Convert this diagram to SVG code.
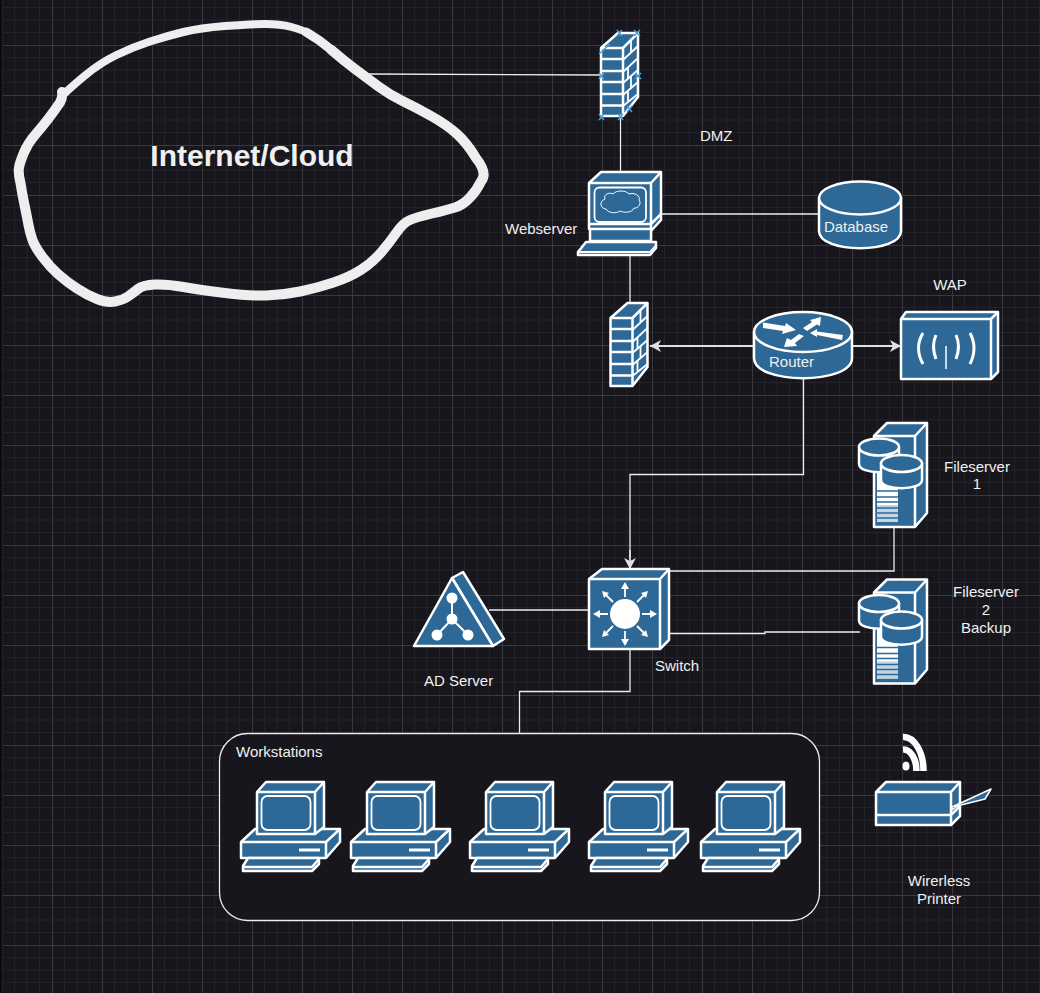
<svg xmlns="http://www.w3.org/2000/svg" width="1040" height="993" viewBox="0 0 1040 993">
<style>
.s{fill:#2d6896;stroke:#fff;stroke-width:2.500;stroke-linejoin:round}
.l{fill:none;stroke:#fff;stroke-width:2.500;stroke-linejoin:round}
.t{fill:none;stroke:#fff;stroke-width:1.800;stroke-linejoin:round}
.w{fill:#fff;stroke:none}
.c{fill:none;stroke:#ececec;stroke-width:1.300}
.a{fill:none;stroke:#e0e0e0;stroke-width:1.800}
.k{fill:none;stroke:#eeeeee;stroke-linecap:round;stroke-linejoin:round}
text{font-family:"Liberation Sans",Arial,sans-serif;font-size:15px;fill:#f0f0f0}
.m{text-anchor:middle}
.x{stroke:#4f9fd8;stroke-width:1.500;fill:none}
</style>
<defs>
<pattern id="grid" width="50" height="50" x="2" y="-5" patternUnits="userSpaceOnUse">
<path d="M12.5 0V50M25 0V50M37.5 0V50M0 12.5H50M0 25H50M0 37.5H50" fill="none" stroke="#232228" stroke-width="1"/>
<path d="M0.5 0V50M0 0.5H50" fill="none" stroke="#3a393e" stroke-width="1"/>
</pattern>
<marker id="arr" markerUnits="userSpaceOnUse" markerWidth="12" markerHeight="14" refX="11" refY="7" orient="auto">
<path d="M0 1L11 7L0 13L3 7Z" fill="#e0e0e0"/>
</marker>
<g id="firewall">
<path class="s" d="M0 15L17 0H37V64L22 83H0Z"/>
<path class="l" d="M0 15H22L37 0M22 15V83"/>
<path class="l" d="M0 26H22M0 38H22M0 49H22M0 61H22M0 72.500H22"/>
<path class="t" d="M22 27L37 13M22 39L37 25M22 50L37 37M22 62L37 49M22 73L37 61"/>
<path class="t" d="M30 8V19M27 34V46M30 43V55M27 57V68"/>
</g>
<g id="fileserver">
<path class="s" d="M874 436L887 423H927V513L915 527H874Z"/>
<path class="l" d="M874 436H915L927 423M915 436V527"/>
<rect x="877" y="473" width="21" height="49" fill="#fff" stroke="none"/>
<rect x="877" y="505" width="21" height="17" fill="#c4d5e2" stroke="none"/>
<path d="M877 491H898M877 497H898M877 502H898M877 508H898M877 513H898M877 518H898" stroke="#2d6896" stroke-width="1.300" fill="none"/>
<path class="s" d="M859 447V464C859 475 899 475 899 464V447Z"/>
<ellipse class="s" cx="879" cy="447" rx="20" ry="8.500"/>
<path class="s" d="M881 463V480C881 491 922 491 922 480V463Z"/>
<ellipse class="s" cx="901.500" cy="463.500" rx="20.500" ry="8.500"/>
</g>
<g id="pc">
<path class="s" d="M241 842L255 829H340V842L326 858H241Z"/>
<path class="l" d="M241 842H326L340 829M326 842V858"/>
<path class="w" d="M299 848.500H320V851.500H299Z"/>
<path class="s" d="M248 858H319V864L312 871H243V866Z"/>
<path class="l" d="M243 867H312L319 859"/>
<path class="s" d="M257 792L266 782H324V827L315 834H257Z"/>
<path class="l" d="M257 792H315L324 782M315 792V834"/>
<rect class="t" x="261.500" y="796" width="49" height="34" rx="6"/>
</g>
</defs>
<rect width="1040" height="993" fill="#18161d"/>
<rect width="1040" height="993" fill="url(#grid)"/>
<rect width="2.500" height="993" fill="#0c0c0e"/>
<g id="connectors">
<path class="c" d="M367 74L601 75"/>
<path class="c" d="M620.500 117V172"/>
<path class="c" d="M661 214H819"/>
<path class="c" d="M630 256V303"/>
<path class="a" d="M753 346H650" marker-end="url(#arr)"/>
<path class="a" d="M852 346H901" marker-end="url(#arr)"/>
<path class="c" d="M803.500 378V474.500H630V558"/>
<path class="a" d="M630 550V569" marker-end="url(#arr)"/>
<path class="c" d="M894 527V571H669"/>
<path class="c" d="M669 633.500H765V632H860"/>
<path class="c" d="M489 610H589"/>
<path class="c" d="M630 649V691.500H519.500V733"/>
</g>
<g id="cloud">
<path class="k" stroke-width="8" d="M64 94Q70 88 85 75.500Q100 63 116.500 55Q133 47 150 41.500Q167 36 183.500 32Q200 28 225 26Q250 24 265 24Q280 24 291.500 27Q303 30 311.500 35"/>
<path class="k" stroke-width="9" d="M306 32Q320 40 331.500 50"/>
<path class="k" stroke-width="10" d="M331.500 50Q343 60 355 69Q367 78 378.500 86.500Q390 95 403.500 101.500Q417 108 432 116.500Q447 125 457 134Q467 143 476 158Q488 173 481 181.500Q477 190 470 197.500Q463 205 455 207.500Q447 210 432 213.500Q417 217 410 220Q403 223 396.500 232.500Q390 242 381.500 252Q373 262 361.500 269.500Q350 277 333.500 282.500Q317 288 300 291.500Q283 295 266.500 295.500Q250 296 225 293Q200 290 183.500 287Q167 284 155 284.500Q143 285 138 289Q133 293 128 296.500Q123 300 115 301.500Q107 303 97 299Q87 295 77 288.500Q67 282 58.500 274.500Q50 267 42.500 257Q35 247 32.500 240Q30 233 28.500 225Q27 217 24.500 205Q22 193 20.500 183Q18 173 19 167.500Q20 162 24 152.500Q28 143 35 135Q42 127 48.500 118.500Q55 110 60 102.500Q63 97 62 92"/>
<text x="252" y="166" class="m" style="font-size:30px;font-weight:bold">Internet/Cloud</text>
</g>
<g id="firewall-dmz">
<use href="#firewall" x="601" y="33"/>
<path class="x" d="M599 54L610 44M617 30L622 36M622 30L617 36M634 30L640 36M640 30L634 36M599 73L604 79M604 73L599 79M635 73L641 79M641 73L635 79M599 114L604 120M604 114L599 120M618 114L623 120M623 114L618 120M627 106L632 112M632 106L627 112"/>
</g>
<g id="webserver">
<path class="s" d="M589 183L601 172H661V220L651 231V241H590V229H589Z"/>
<path class="l" d="M589 183H651L661 172M651 183V229H589M590 224H651L661 214"/>
<rect class="t" x="594.500" y="187.500" width="51.500" height="34.500" rx="5"/>
<path class="l" style="stroke-width:1" d="M605 199C603 194 610 192 613 194C616 190 626 190 629 194C634 192 641 196 639 200C642 203 638 209 634 208C632 213 624 213 620 211C616 214 608 213 606 209C601 209 598 202 605 199Z"/>
<path class="s" d="M586 242H656V248L650 255H578V252Z"/>
<path class="t" d="M578 252H650L656 245"/>
<text x="505" y="234">Webserver</text>
</g>
<g id="database">
<path class="s" d="M819 198V231C819 254 901 254 901 231V198Z"/>
<ellipse class="s" cx="860" cy="198" rx="41" ry="16.500"/>
<text x="856" y="232" class="m">Database</text>
</g>
<g id="dmz-label"><text x="700" y="141">DMZ</text></g>
<g id="firewall-inner"><use href="#firewall" x="610.500" y="303"/></g>
<g id="router">
<path class="s" d="M754 332V358C754 385 852 385 852 358V332Z"/>
<ellipse class="s" cx="803" cy="332" rx="49" ry="20"/>
<path class="w" d="M763 322.500L785 326L786 323L796 330L782 334L783 331L763 328ZM803 328L812 322L810 320L821 317L820 326L817 324.500L807 331ZM810 333L817 329L817 331.500L843 335L842 340L817 335L817 337ZM784 347L787 338L791 340L799 334L804 336L795 343L797 346Z"/>
<text x="769" y="367">Router</text>
</g>
<g id="wap">
<path class="s" d="M901 319L906 312H998V372L991 379H901Z"/>
<path class="l" d="M901 319H991L998 312M991 319V379"/>
<path d="M923 333Q914 348 923 364M936 335Q931 346 936 359M956 335Q961 346 956 359M970 333Q978 348 970 364" stroke="#fff" stroke-width="3" fill="none"/>
<path d="M946 346V369" stroke="#fff" stroke-width="1.500"/>
<text x="950" y="290" class="m">WAP</text>
</g>
<g id="fileserver1">
<use href="#fileserver"/>
<text x="977" y="472" class="m">Fileserver</text>
<text x="977" y="489" class="m">1</text>
</g>
<g id="fileserver2">
<use href="#fileserver" y="156.500"/>
<text x="986" y="597" class="m">Fileserver</text>
<text x="986" y="615" class="m">2</text>
<text x="986" y="633" class="m">Backup</text>
</g>
<g id="switch">
<path class="s" d="M589 579L602 569H669V640L660 649H589Z"/>
<path class="l" d="M589 579H660L669 569M660 579V649"/>
<circle cx="625" cy="614" r="15" fill="#fff"/>
<g stroke="#fff" stroke-width="1.800" fill="none">
<path d="M625 597V584M625 631V644M608 614H595M642 614H655M613 602L604 593M637 602L646 593M613 626L604 635M637 626L646 635"/>
</g>
<path class="w" d="M625 582L629 589H621ZM625 646L629 639H621ZM593 614L600 610V618ZM657 614L650 610V618ZM602 591L609 593L604 598ZM648 591L646 598L641 593ZM602 637L604 630L609 635ZM648 637L641 635L646 630Z"/>
<text x="655" y="671">Switch</text>
</g>
<g id="ad-server">
<path class="s" d="M452 578L463 572L504 639L493 646Z"/>
<path class="s" d="M414 646L452 578L493 646Z"/>
<path d="M452 598V619M452 619L437 635M452 619L468 635" stroke="#fff" stroke-width="2"/>
<circle cx="452" cy="598" r="5.500" fill="#fff"/>
<circle cx="452" cy="619" r="5.500" fill="#fff"/>
<circle cx="437" cy="635" r="5.500" fill="#fff"/>
<circle cx="468" cy="635" r="5.500" fill="#fff"/>
<text x="424" y="686">AD Server</text>
</g>
<g id="workstations">
<rect x="219.500" y="733.500" width="600" height="187" rx="28" fill="#18161d" stroke="#ececec" stroke-width="1.300"/>
<text x="236" y="757">Workstations</text>
</g>
<g id="workstation1"><use href="#pc"/></g>
<g id="workstation2"><use href="#pc" x="110"/></g>
<g id="workstation3"><use href="#pc" x="229"/></g>
<g id="workstation4"><use href="#pc" x="348"/></g>
<g id="workstation5"><use href="#pc" x="460"/></g>
<g id="printer">
<path d="M903 737A20 34 0 0 1 923.500 771M903 749.500A13 21.500 0 0 1 916.500 771" fill="none" stroke="#fff" stroke-width="6.500"/>
<ellipse cx="906" cy="766" rx="3.500" ry="4.500" fill="#fff"/>
<path class="s" d="M876 792L886 782H960V816L951 825H876Z"/>
<path class="l" d="M876 792H951L960 782M951 792V825M876 815H951L960 806"/>
<path class="s" d="M952 807L991 789L985 799L957 806L952 810Z" style="stroke-width:1.500"/>
<text x="939" y="886" class="m">Wirerless</text>
<text x="939" y="904" class="m">Printer</text>
</g>
</svg>
